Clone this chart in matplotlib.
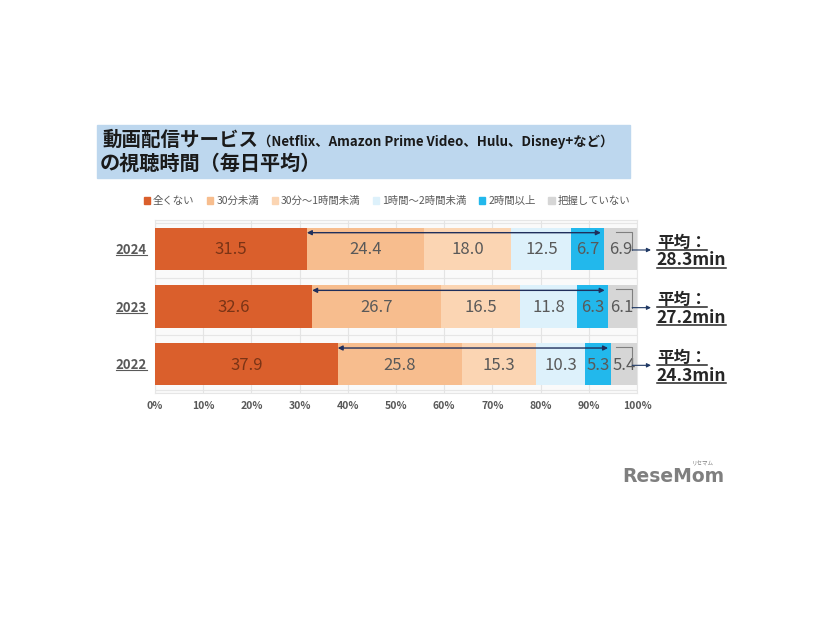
import matplotlib.pyplot as plt
from matplotlib.patches import Rectangle
from matplotlib.lines import Line2D

plt.rcParams['font.family'] = ['Noto Sans CJK JP', 'DejaVu Sans']

years = ['2022', '2023', '2024']
categories = ['全くない', '30分未満', '30分～1時間未満', '1時間～2時間未満', '2時間以上', '把握していない']
values = {
    '2022': [37.9, 25.8, 15.3, 10.3, 5.3, 5.4],
    '2023': [32.6, 26.7, 16.5, 11.8, 6.3, 6.1],
    '2024': [31.5, 24.4, 18.0, 12.5, 6.7, 6.9],
}
averages = ['24.3min', '27.2min', '28.3min']
colors = ['#DA5F2C', '#F7BD8E', '#FBD5B3', '#DDF1FB', '#22B8EC', '#D6D6D6']
text_colors = ['#7A3416', '#595959', '#595959', '#595959', '#595959', '#595959']
xticks = list(range(0, 101, 10))

fig = plt.figure(figsize=(8.26, 6.2), dpi=100)
ax = fig.add_axes([155 / 826, 1 - 393 / 620, 482 / 826, 173 / 620])
ax.set_facecolor('#FAFAFA')

bar_h = 0.73
for i, yr in enumerate(years):
    left = 0
    for j, v in enumerate(values[yr]):
        ax.barh(i, v, left=left, height=bar_h, color=colors[j], zorder=3)
        ax.text(left + v / 2, i - 0.02, f'{v:.1f}', ha='center', va='center',
                fontsize=12, color=text_colors[j], zorder=4)
        left += v
    # double arrow from end of first segment to end of 2h+ segment
    start = values[yr][0]
    end = sum(values[yr][:5]) - 0.6
    ax.annotate('', xy=(start, i + 0.28), xytext=(end, i + 0.28),
                arrowprops=dict(arrowstyle='<|-|>', color='#1F2F5C', lw=1,
                                mutation_scale=7, shrinkA=0, shrinkB=0),
                zorder=5)
    # bracket to the average label
    ax.plot([95.6, 99.0, 99.0], [i + 0.3, i + 0.3, i - 0.02], color='#7F7F7F',
            lw=0.8, clip_on=False, zorder=5)
    ax.annotate('', xy=(102.9, i - 0.02), xytext=(99.0, i - 0.02),
                arrowprops=dict(arrowstyle='-|>', color='#1F3864', lw=0.8,
                                mutation_scale=6, shrinkA=0, shrinkB=0),
                annotation_clip=False, zorder=5)

ax.set_xlim(0, 100)
ax.set_ylim(-0.5, 2.5)
ax.set_xticks(xticks)
ax.set_xticklabels([f'{t}%' for t in xticks], fontsize=7.5, color='#595959',
                   fontweight='bold')
ax.tick_params(axis='x', length=0, pad=6)
ax.set_yticks([])
ax.grid(axis='x', color='#E4E4E4', lw=0.8, zorder=0)
for yy in [-0.45, 0.5, 1.5, 2.45]:
    ax.axhline(yy, color='#E6E6E6', lw=0.8, zorder=1)
for s in ax.spines.values():
    s.set_color('#E6E6E6')
    s.set_linewidth(0.8)

# year labels and average labels
under = []
for i, yr in enumerate(years):
    t = ax.text(-1.7, i - 0.02, yr, ha='right', va='center', fontsize=9.5,
                fontweight='bold', color='#595959')
    under.append((t, '#595959', 0.8))
    t1 = ax.text(104.1, i + 0.11, '平均：', ha='left', va='center', fontsize=12,
                 fontweight='bold', color='#262626', clip_on=False)
    t2 = ax.text(104.1, i - 0.2, averages[i], ha='left', va='center', fontsize=12.5,
                 fontweight='bold', color='#262626', clip_on=False)
    under.append((t1, '#262626', 1.1))
    under.append((t2, '#262626', 1.1))

# title box
fig.patches.append(Rectangle((97 / 826, 1 - 178 / 620), 533 / 826, 53 / 620,
                             transform=fig.transFigure, color='#BDD7EE', zorder=-1))
t_main = fig.text(102 / 826, 1 - 140 / 620, '動画配信サービス', fontsize=14,
                  fontweight='bold', color='#1A1A1A', va='center', ha='left')
fig.text(100 / 826, 1 - 163 / 620, 'の視聴時間（毎日平均）', fontsize=14.5,
         fontweight='bold', color='#1A1A1A', va='center', ha='left')
ax.annotate('（Netflix、Amazon Prime Video、Hulu、Disney+など）', xy=(1, 0.5),
            xycoords=t_main, xytext=(0, -1), textcoords='offset points',
            va='center', ha='left', fontsize=9.6, fontweight='bold', color='#1A1A1A')

# legend
handles = [Rectangle((0, 0), 1, 1, color=c) for c in colors]
fig.legend(handles, categories, loc='center', bbox_to_anchor=(387 / 826, 1 - 201 / 620),
           ncol=6, frameon=False, fontsize=7.5, handlelength=0.6, handleheight=0.6,
           handletextpad=0.3, columnspacing=1.2, labelcolor='#595959')

# logo
fig.text(622 / 826, 1 - 476 / 620, 'ReseMom', fontsize=13.5, fontweight='bold',
         color='#7F7F7F', va='center', ha='left', family='DejaVu Sans')
fig.text(692 / 826, 1 - 464 / 620, 'リセマム', fontsize=4, color='#7F7F7F',
         va='center', ha='left')

# underline the year and average labels
fig.canvas.draw()
r = fig.canvas.get_renderer()
for t, c, lw in under:
    bb = t.get_window_extent(r).transformed(fig.transFigure.inverted())
    fig.add_artist(Line2D([bb.x0, bb.x1], [bb.y0 + 0.003, bb.y0 + 0.003],
                          color=c, lw=lw, transform=fig.transFigure))

fig.savefig('out.png', dpi=100)
